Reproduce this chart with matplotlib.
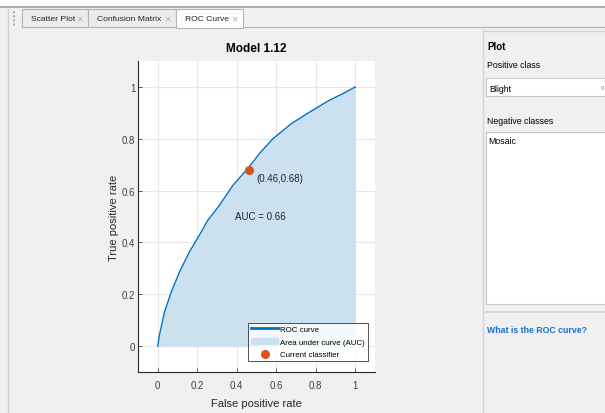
import matplotlib
matplotlib.use("Agg")
import matplotlib.pyplot as plt
from matplotlib.patches import Rectangle
from matplotlib.lines import Line2D

plt.rcParams['font.family'] = ['Liberation Sans', 'DejaVu Sans']

# ROC curve
fpr = [0, 0.008, 0.034, 0.068, 0.11, 0.16, 0.21, 0.253, 0.3125, 0.38, 0.456,
       0.515, 0.583, 0.676, 0.769, 0.87, 0.9375, 1.0]
tpr = [0, 0.041, 0.131, 0.208, 0.286, 0.363, 0.427, 0.485, 0.543, 0.62, 0.685,
       0.743, 0.80, 0.858, 0.903, 0.949, 0.974, 1.0]
op_point = (0.46, 0.68)
auc = 0.66
ticks = [0, 0.2, 0.4, 0.6, 0.8, 1]
tabs = ["Scatter Plot", "Confusion Matrix", "ROC Curve"]
pos_class = "Blight"
neg_classes = ["Mosaic"]

blue = "#0072BD"
fill = "#cbe1f0"
orange = "#D95319"
bg = "#f0f0f0"

fig = plt.figure(figsize=(6.05, 4.14), dpi=100, facecolor=bg)

# background layer in pixel coordinates for the app frame
ui = fig.add_axes([0, 0, 1, 1], zorder=0)
ui.set_xlim(0, 605)
ui.set_ylim(414, 0)
ui.axis("off")

ui.add_patch(Rectangle((0, 0), 605, 8, color="white", lw=0))
ui.plot([0, 605], [8, 8], color="#a0a0a0", lw=1.2)
ui.plot([8, 8], [10, 414], color="#d0d0d0", lw=1.0)
# gripper
ui.plot([14, 14], [12, 27], color="#b0b0b0", lw=1.5, ls=(0, (1, 1)))
tab_x = [22, 88, 176, 243]
for i, name in enumerate(tabs):
    x0, x1 = tab_x[i], tab_x[i + 1]
    active = i == 2
    ui.add_patch(Rectangle((x0, 10), x1 - x0, 18 if not active else 19,
                           facecolor="white" if active else "#ececec",
                           edgecolor="#b4b4b4", lw=0.8))
    ui.text(x0 + 9, 19.5, name, fontsize=6.1, color="#222222",
            va="center", ha="left")
    ui.text(x1 - 9, 19.5, "\u00d7", fontsize=8, color="#b0b0b0",
            va="center", ha="center")
ui.plot([243, 605], [28, 28], color="#b4b4b4", lw=0.8)

# right panel
ui.plot([483, 483], [32, 414], color="#d4d4d4", lw=1.0)
ui.plot([483, 605], [32, 32], color="#d4d4d4", lw=1.0)
ui.text(487, 47, "Plot", fontsize=7, fontweight="bold", va="center")
ui.text(487, 66, "Positive class", fontsize=6.3, va="center")
ui.add_patch(Rectangle((486, 79), 125, 18, facecolor="white",
                       edgecolor="#c8c8c8", lw=0.8))
ui.text(489, 89, pos_class, fontsize=6.3, va="center")
ui.text(601, 89, "v", fontsize=5, color="#888888", va="center")
ui.text(487, 122, "Negative classes", fontsize=6.3, va="center")
ui.add_patch(Rectangle((486, 133), 125, 172, facecolor="white",
                       edgecolor="#c8c8c8", lw=0.8))
for k, c in enumerate(neg_classes):
    ui.text(488, 142 + 12 * k, c, fontsize=6.3, va="center")
ui.plot([486, 605], [313, 313], color="#d8d8d8", lw=1.5)
ui.text(487, 331, "What is the ROC curve?", fontsize=6.3, color="#1a6fd0",
        va="center", fontweight="bold")

# main ROC axes
ax = fig.add_axes([138 / 605, 1 - 373 / 414, 237 / 605, 311 / 414], zorder=2)
ax.set_facecolor("white")
ax.fill_between(fpr, tpr, 0, color=fill, lw=0, label="Area under curve (AUC)")
ax.plot(fpr, tpr, color=blue, lw=1.0, label="ROC curve")
ax.plot(*op_point, "o", color=orange, ms=5.5, label="Current classifier")
ax.text(op_point[0] + 0.037, op_point[1] - 0.03,
        "(%.2f,%.2f)" % op_point, fontsize=7, color="#262626", va="center")
ax.text(0.39, 0.5, "AUC = %.2f" % auc, fontsize=7, color="#262626",
        va="center")

ax.set_xlim(-0.1, 1.1)
ax.set_ylim(-0.1, 1.1)
ax.set_xticks(ticks)
ax.set_yticks(ticks)
ax.set_xticklabels(["0", "0.2", "0.4", "0.6", "0.8", "1"])
ax.set_yticklabels(["0", "0.2", "0.4", "0.6", "0.8", "1"])
ax.grid(True, color="#e6e6e6", lw=0.8)
ax.set_axisbelow(True)
for s in ["top", "right"]:
    ax.spines[s].set_visible(False)
for s in ["left", "bottom"]:
    ax.spines[s].set_color("#262626")
    ax.spines[s].set_linewidth(0.8)
ax.tick_params(direction="in", length=3, labelsize=7, colors="#404040",
               width=0.6)
ax.tick_params(axis="x", pad=6)
ax.tick_params(axis="y", pad=2)
ax.set_xlabel("False positive rate", fontsize=8, color="#262626")
ax.set_ylabel("True positive rate", fontsize=8, color="#262626")
ax.xaxis.set_label_coords(0.5, -0.085)
ax.yaxis.set_label_coords(-0.082, 0.5)
ax.set_title("Model 1.12", fontsize=8.5, fontweight="bold", pad=7)

handles = [Line2D([], [], color=blue, lw=2),
           Rectangle((0, 0), 1, 1, color=fill),
           Line2D([], [], marker="o", ls="", color=orange, ms=5.5)]
leg = ax.legend(handles, ["ROC curve", "Area under curve (AUC)", "Current classifier"],
                loc="lower right", bbox_to_anchor=(0.97, 0.035), fontsize=5.7,
                frameon=True, fancybox=False, edgecolor="#262626",
                borderpad=0.35, labelspacing=0.65, handlelength=3.4,
                handletextpad=0.3, borderaxespad=0)
leg.get_frame().set_linewidth(0.7)

fig.savefig("out.png", dpi=100, facecolor=bg)
